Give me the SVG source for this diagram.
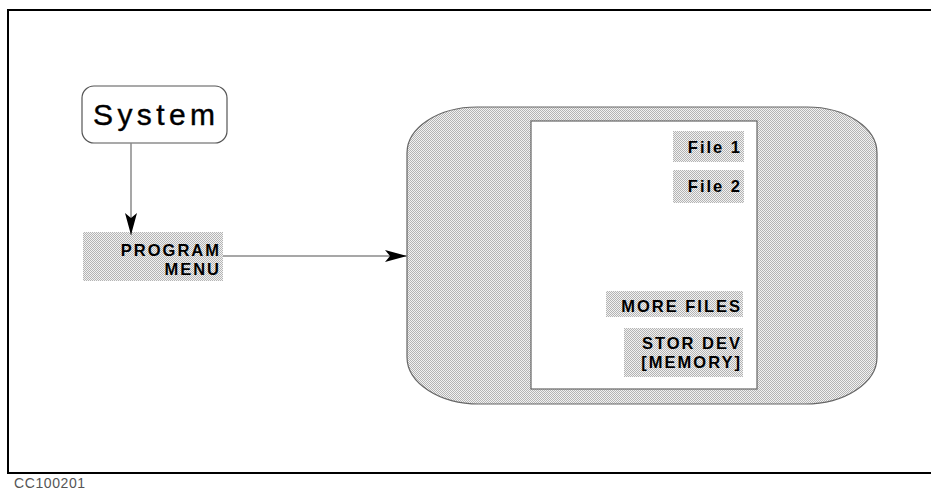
<svg xmlns="http://www.w3.org/2000/svg" width="931" height="491" viewBox="0 0 931 491">
<defs>
<pattern id="dots" patternUnits="userSpaceOnUse" width="2" height="2">
<rect width="2" height="2" fill="#f2f2f2"/>
<rect x="0" y="0" width="1" height="1" fill="#b4b4b4"/>
<rect x="1" y="1" width="1" height="1" fill="#b4b4b4"/>
</pattern>
<marker id="arrow" viewBox="0 0 22 12" refX="22" refY="6" markerWidth="22" markerHeight="12" markerUnits="userSpaceOnUse" orient="auto">
<path d="M0,0 L22,6 L0,12 L5,6 Z" fill="#000"/>
</marker>
</defs>
<style>
.lbl{font-family:"Liberation Sans",Arial,sans-serif;font-size:16.5px;font-weight:bold;letter-spacing:2px;fill:#000;text-anchor:end}
.bg{fill:url(#dots);stroke:none}
.conn{stroke:#8a8a8a;stroke-width:1.5;fill:none}
</style>
<rect width="931" height="491" fill="#fff"/>
<path d="M931,10 H8 V473 H931" fill="none" stroke="#000" stroke-width="2"/>
<text x="14" y="488" font-family="'Liberation Sans',Arial,sans-serif" font-size="14" letter-spacing="0.6" fill="#555">CC100201</text>

<g id="system">
<rect x="82" y="86" width="145" height="57" rx="12" ry="12" fill="#fff" stroke="#555" stroke-width="1.2"/>
<text x="93" y="125" font-family="'Liberation Sans',Arial,sans-serif" font-size="30" letter-spacing="4.4" fill="#000" stroke="#000" stroke-width="0.4">System</text>
</g>

<g id="program-menu">
<rect class="bg" x="83" y="232" width="140" height="49"/>
<text class="lbl" x="221" y="256">PROGRAM</text>
<text class="lbl" x="221" y="275">MENU</text>
</g>

<g id="menu-panel">
<path d="M477,107 H807 A70,46 0 0 1 877,153 V357 A72,47 0 0 1 805,404 H480 A72,47 0 0 1 407,357 V153 A70,46 0 0 1 477,107 Z" fill="url(#dots)" stroke="#666" stroke-width="1.2"/>
<rect x="531" y="121" width="226" height="268" fill="#fff" stroke="#666" stroke-width="1.2"/>
<g id="file1">
<rect class="bg" x="673" y="131" width="71" height="31"/>
<text class="lbl" x="742" y="153">File 1</text>
</g>
<g id="file2">
<rect class="bg" x="673" y="170" width="71" height="33"/>
<text class="lbl" x="742" y="192">File 2</text>
</g>
<g id="more-files">
<rect class="bg" x="606" y="291" width="137" height="26"/>
<text class="lbl" x="742" y="312">MORE FILES</text>
</g>
<g id="stor-dev">
<rect class="bg" x="624" y="328" width="119" height="49"/>
<text class="lbl" x="742" y="349">STOR DEV</text>
<text class="lbl" x="742" y="368">[MEMORY]</text>
</g>
</g>

<g id="connectors">
<line class="conn" x1="131" y1="143" x2="131" y2="235" marker-end="url(#arrow)"/>
<line class="conn" x1="223" y1="256" x2="407" y2="256" marker-end="url(#arrow)"/>
</g>
</svg>
